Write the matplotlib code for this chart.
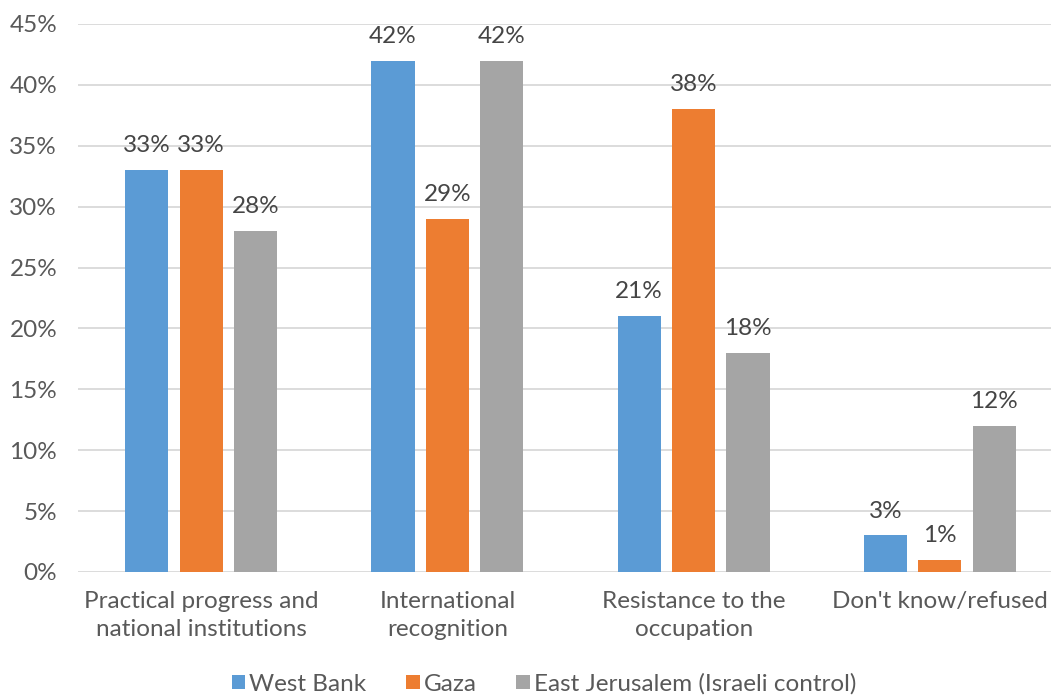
import matplotlib.pyplot as plt
import numpy as np

categories = ['Practical progress and\nnational institutions', 'International\nrecognition',
              'Resistance to the\noccupation', "Don't know/refused"]
series_names = ['West Bank', 'Gaza', 'East Jerusalem (Israeli control)']
west_bank = [33, 42, 21, 3]
gaza = [33, 29, 38, 1]
east_jerusalem = [28, 42, 18, 12]
colors = ['#5B9BD5', '#ED7D31', '#A5A5A5']

plt.rcParams['font.family'] = ['Lato', 'DejaVu Sans']
text_color = '#595959'
fs = 17.5

fig = plt.figure(figsize=(10.51, 6.96), dpi=100)
ax = fig.add_axes([78 / 1051, 1 - 572 / 696, 985 / 1051, 548 / 696])

x = np.arange(len(categories))
width = 0.175
step = 0.221
for i, (vals, name) in enumerate(zip([west_bank, gaza, east_jerusalem], series_names)):
    bars = ax.bar(x + (i - 1) * step, vals, width, color=colors[i], label=name, zorder=3)
    for b, v in zip(bars, vals):
        ax.annotate(f'{v}%', (b.get_x() + b.get_width() / 2, v), xytext=(0, 10),
                    textcoords='offset points', ha='center', va='bottom',
                    fontsize=fs, color='#454545')

ax.set_xlim(-0.5, 3.5)
ax.set_ylim(0, 45)
ax.set_yticks(range(0, 46, 5))
ax.set_yticklabels([f'{t}%' for t in range(0, 46, 5)])
ax.set_xticks(x)
ax.set_xticklabels(categories, linespacing=1.4)
ax.tick_params(axis='y', length=0, pad=15, labelsize=fs, labelcolor=text_color)
ax.tick_params(axis='x', length=0, pad=14, labelsize=fs, labelcolor=text_color)
ax.grid(axis='y', color='#D9D9D9', linewidth=1.3, zorder=0)
for s in ax.spines.values():
    s.set_visible(False)

ax.legend(loc='center', bbox_to_anchor=((544 - 78) / 985, (572 - 684) / 548),
          ncol=3, frameon=False, fontsize=fs, labelcolor=text_color,
          handlelength=0.55, handleheight=0.55, handletextpad=0.15, columnspacing=1.65)

fig.savefig('out.png', dpi=100)
